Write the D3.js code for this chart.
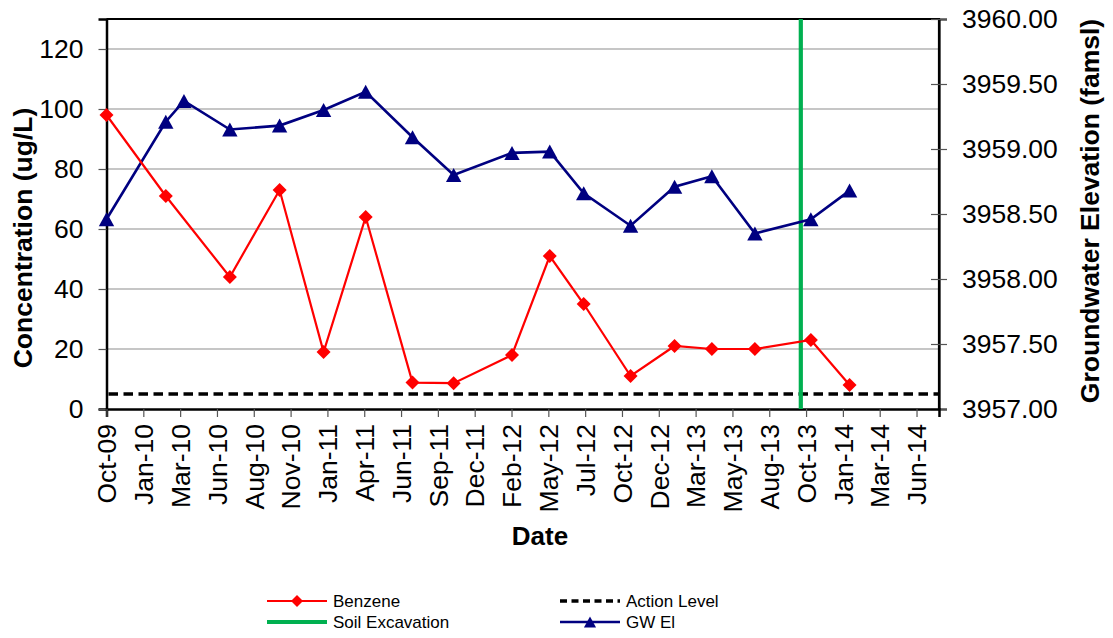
<!DOCTYPE html>
<html>
<head>
<meta charset="utf-8">
<script src="https://cdn.jsdelivr.net/npm/d3@7"></script>
<style>
  html, body { margin: 0; padding: 0; background: #fff; }
  svg { display: block; font-family: "Liberation Sans", Arial, sans-serif; }
</style>
</head>
<body>
<svg id="chart" width="1113" height="638"></svg>
<script>
// Sampling dates and results
const benzeneDates = ["2009-10-22","2010-02-23","2010-07-07","2010-10-19","2011-01-19","2011-04-17",
  "2011-07-24","2011-10-18","2012-02-17","2012-05-06","2012-07-16","2012-10-22","2013-01-22",
  "2013-04-10","2013-07-09","2013-11-03","2014-01-23"];
const benzeneValues = [98, 71, 44, 73, 19, 64, 8.8, 8.6, 18, 51, 35, 11, 21, 20, 20, 23, 8];

const gwDates = ["2009-10-22","2010-02-23","2010-04-02","2010-07-07","2010-10-19","2011-01-19",
  "2011-04-17","2011-07-24","2011-10-18","2012-02-17","2012-05-06","2012-07-16","2012-10-22",
  "2013-01-22","2013-04-10","2013-07-09","2013-11-03","2014-01-23"];
const gwValues = [3958.46, 3959.21, 3959.37, 3959.15, 3959.18, 3959.30, 3959.44, 3959.09, 3958.80,
  3958.97, 3958.98, 3958.66, 3958.41, 3958.71, 3958.79, 3958.35, 3958.46, 3958.68];

const actionLevel = 5;
const excavationDate = "2013-10-13";

// Date axis: start/end and tick dates (77-day major unit)
const xDomain = ["2009-10-22", "2014-07-29"];
const xTickDates = ["2009-10-22","2010-01-07","2010-03-25","2010-06-10","2010-08-26","2010-11-11",
  "2011-01-27","2011-04-14","2011-06-30","2011-09-15","2011-12-01","2012-02-16","2012-05-03",
  "2012-07-19","2012-10-04","2012-12-20","2013-03-07","2013-05-23","2013-08-08","2013-10-24",
  "2014-01-09","2014-03-27","2014-06-12"];
const leftTicks = [0, 20, 40, 60, 80, 100, 120];
const leftDomain = [0, 130];
const rightTicks = [3957, 3957.5, 3958, 3958.5, 3959, 3959.5, 3960];
const rightDomain = [3957, 3960];

const parse = d3.timeParse("%Y-%m-%d");
const fmt = d3.timeFormat("%b-%y");

const svg = d3.select("#chart");
const L = 106.5, R = 939, T = 19, B = 409;

const x = d3.scaleTime().domain(xDomain.map(parse)).range([L, R]);
const yL = d3.scaleLinear().domain(leftDomain).range([B, T]);
const yR = d3.scaleLinear().domain(rightDomain).range([B, T]);

// Horizontal gridlines
svg.append("g").selectAll("line")
  .data(leftTicks.filter(v => v > 0))
  .join("line")
  .attr("x1", L).attr("x2", R)
  .attr("y1", d => yL(d)).attr("y2", d => yL(d))
  .attr("stroke", "#b3b3b3").attr("stroke-width", 1.3);

// Plot frame (top and right)
svg.append("path")
  .attr("d", `M${L},${T}H${R}V${B}`)
  .attr("fill", "none").attr("stroke", "#000").attr("stroke-width", 2.2);

// Left axis
const gL = svg.append("g").attr("transform", `translate(${L},0)`)
  .call(d3.axisLeft(yL).tickValues(leftTicks).tickSize(8).tickPadding(15).tickFormat(d3.format("d")));
// Right axis
const gR = svg.append("g").attr("transform", `translate(${R},0)`)
  .call(d3.axisRight(yR).tickValues(rightTicks).tickSize(8).tickPadding(15).tickFormat(d3.format(".2f")));
gR.selectAll(".tick line").attr("x1", -8);
// Bottom axis
const gB = svg.append("g").attr("transform", `translate(0,${B})`)
  .call(d3.axisBottom(x).tickValues(xTickDates.map(parse)).tickSize(8).tickFormat(fmt));
gB.selectAll(".tick text")
  .attr("transform", "rotate(-90)")
  .attr("text-anchor", "end")
  .attr("x", -15).attr("y", 0).attr("dy", "0.35em");

[gL, gR, gB].forEach(g => {
  g.selectAll(".domain").attr("stroke", "#000").attr("stroke-width", 2.5);
  g.selectAll(".tick line").attr("stroke", "#555").attr("stroke-width", 1.2);
  g.selectAll(".tick text").attr("fill", "#000").style("font-size", "26.5px");
});
gR.select(".domain").attr("stroke-width", 2.2);

// Action level
svg.append("line")
  .attr("x1", L + 2).attr("x2", R - 1)
  .attr("y1", yL(actionLevel)).attr("y2", yL(actionLevel))
  .attr("stroke", "#000").attr("stroke-width", 3.6)
  .attr("stroke-dasharray", "9.5,5.5");

// Soil excavation marker line
svg.append("line")
  .attr("x1", x(parse(excavationDate))).attr("x2", x(parse(excavationDate)))
  .attr("y1", T).attr("y2", B)
  .attr("stroke", "#00b050").attr("stroke-width", 4.2);

// Groundwater elevation series
const gwData = gwDates.map((d, i) => ({ date: parse(d), value: gwValues[i] }));
svg.append("path").datum(gwData)
  .attr("fill", "none").attr("stroke", "#000080").attr("stroke-width", 2.6)
  .attr("d", d3.line().x(d => x(d.date)).y(d => yR(d.value)));

const triangle = (s) => `M0,${-s * 0.5}L${s * 0.55},${s * 0.5}L${-s * 0.55},${s * 0.5}Z`;
const diamond = (s) => `M0,${-s}L${s},0L0,${s}L${-s},0Z`;

svg.append("g").selectAll("path").data(gwData).join("path")
  .attr("transform", d => `translate(${x(d.date)},${yR(d.value)})`)
  .attr("d", triangle(14)).attr("fill", "#000080");

// Benzene series
const bzData = benzeneDates.map((d, i) => ({ date: parse(d), value: benzeneValues[i] }));
svg.append("path").datum(bzData)
  .attr("fill", "none").attr("stroke", "#ff0000").attr("stroke-width", 2.2)
  .attr("d", d3.line().x(d => x(d.date)).y(d => yL(d.value)));
svg.append("g").selectAll("path").data(bzData).join("path")
  .attr("transform", d => `translate(${x(d.date)},${yL(d.value)})`)
  .attr("d", diamond(7)).attr("fill", "#ff0000");

// Axis titles
svg.append("text")
  .attr("transform", `translate(32,238) rotate(-90)`)
  .attr("text-anchor", "middle")
  .style("font-size", "26.5px").style("font-weight", "bold")
  .text("Concentration (ug/L)");
svg.append("text")
  .attr("transform", `translate(1099,211) rotate(-90)`)
  .attr("text-anchor", "middle")
  .style("font-size", "26.5px").style("font-weight", "bold")
  .text("Groundwater Elevation (famsl)");
svg.append("text")
  .attr("x", 540).attr("y", 545)
  .attr("text-anchor", "middle")
  .style("font-size", "26px").style("font-weight", "bold")
  .text("Date");

// Legend
const legend = svg.append("g").style("font-size", "17px");
const legendItems = [
  { label: "Benzene", x: 267, y: 601, color: "#ff0000", width: 2.2, dash: null, marker: "diamond" },
  { label: "Soil Excavation", x: 267, y: 622, color: "#00b050", width: 4.2, dash: null, marker: null },
  { label: "Action Level", x: 560, y: 601, color: "#000", width: 3.6, dash: "7,4.5", marker: null },
  { label: "GW El", x: 560, y: 622, color: "#000080", width: 2.6, dash: null, marker: "triangle" }
];
legendItems.forEach(it => {
  legend.append("line")
    .attr("x1", it.x).attr("x2", it.x + 60)
    .attr("y1", it.y).attr("y2", it.y)
    .attr("stroke", it.color).attr("stroke-width", it.width)
    .attr("stroke-dasharray", it.dash);
  if (it.marker === "diamond") {
    legend.append("path").attr("transform", `translate(${it.x + 30},${it.y})`)
      .attr("d", diamond(6)).attr("fill", it.color);
  } else if (it.marker === "triangle") {
    legend.append("path").attr("transform", `translate(${it.x + 30},${it.y})`)
      .attr("d", triangle(11)).attr("fill", it.color);
  }
  legend.append("text")
    .attr("x", it.x + 66).attr("y", it.y).attr("dy", "0.36em")
    .text(it.label);
});
</script>
</body>
</html>
